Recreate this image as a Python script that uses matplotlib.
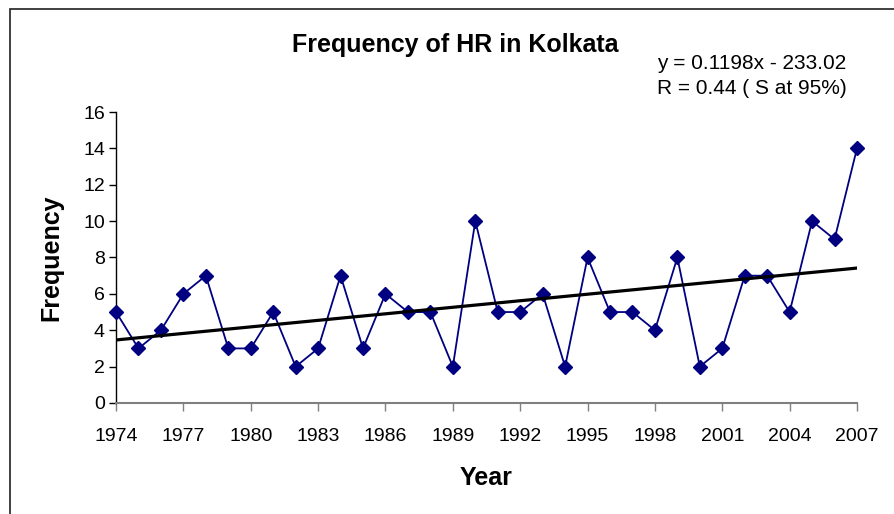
import matplotlib
matplotlib.use("Agg")
import matplotlib.pyplot as plt
from matplotlib.patches import Rectangle
import numpy as np

plt.rcParams['font.family'] = ['Liberation Sans', 'DejaVu Sans']

years = list(range(1974, 2008))
frequency = [5, 3, 4, 6, 7, 3, 3, 5, 2, 3, 7, 3, 6, 5, 5, 2, 10, 5, 5, 6,
             2, 8, 5, 5, 4, 8, 2, 3, 7, 7, 5, 10, 9, 14]
slope = 0.1198
intercept = -233.02
x_ticks = list(range(1974, 2008, 3))
y_ticks = list(range(0, 17, 2))

fig = plt.figure(figsize=(8.94, 5.14), dpi=100)
ax = fig.add_axes([0.1298, 0.2160, 0.8288, 0.5661])

# series + linear trend
ax.plot(years, frequency, color='#000080', linewidth=1.3, marker='D',
        markersize=7.5, markerfacecolor='#000080', markeredgecolor='#000080',
        clip_on=False, zorder=3)
yrs = np.array([years[0], years[-1]])
ax.plot(yrs, slope * yrs + intercept, color='black', linewidth=2.3, zorder=4)

ax.set_xlim(1974, 2007)
ax.set_ylim(0, 16)
ax.set_xticks(x_ticks)
ax.set_yticks(y_ticks)
ax.tick_params(axis='both', labelsize=14, direction='out')
ax.tick_params(axis='x', length=6, width=1, color='#808080', pad=12)
ax.tick_params(axis='y', length=5, width=1, color='black', pad=3)

for s in ['top', 'right']:
    ax.spines[s].set_visible(False)
ax.spines['bottom'].set_color('#808080')
ax.spines['bottom'].set_linewidth(1.5)
ax.spines['left'].set_color('black')
ax.spines['left'].set_linewidth(1)

ax.set_xlabel('Year', fontsize=18, fontweight='bold', labelpad=15)
ax.set_ylabel('Frequency', fontsize=18, fontweight='bold', labelpad=14)

fig.text(0.509, 0.912, 'Frequency of HR in Kolkata', fontsize=18,
         fontweight='bold', ha='center', va='center')
fig.text(0.735, 0.852, 'y = 0.1198x - 233.02\nR = 0.44 ( S at 95%)',
         fontsize=15, ha='left', va='center', linespacing=1.45)

# outer chart frame
fig.patches.append(Rectangle((10 / 894, -0.2), 1.5, 0.2 + 1 - 9 / 514,
                             transform=fig.transFigure, fill=False,
                             edgecolor='#202020', linewidth=1.2))

fig.savefig('out.png', dpi=100)
